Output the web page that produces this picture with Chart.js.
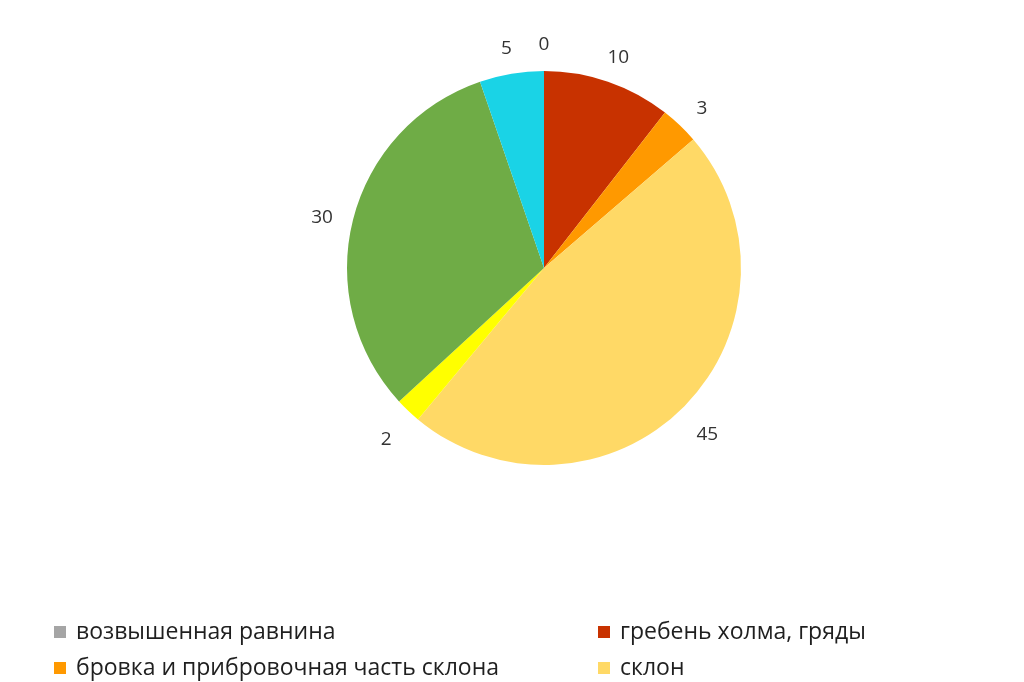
<!DOCTYPE html>
<html>
<head>
<meta charset="utf-8">
<script src="https://cdn.jsdelivr.net/npm/chart.js@4/dist/chart.umd.min.js"></script>
<style>
  html, body { margin: 0; padding: 0; background: #fff; }
  #wrap { width: 1024px; height: 682px; }
</style>
</head>
<body>
<div id="wrap"><canvas id="c" width="1024" height="682"></canvas></div>
<script>
// Формы рельефа (последние три в легенде не видны, подписи предположительные)
const categories = [
  'возвышенная равнина',
  'гребень холма, гряды',
  'бровка и прибровочная часть склона',
  'склон',
  'подножие склона',
  'терраса',
  'пойма'
];
const values = [0, 10, 3, 45, 2, 30, 5];
const colors = ['#a5a5a5', '#c83200', '#ff9900', '#ffd966', '#ffff00', '#6fac46', '#1ad3e6'];
const legendShown = 4;

const fontFamily = '"Open Sans", sans-serif';

// подписи значений снаружи круга
const outerLabels = {
  id: 'outerLabels',
  afterDatasetsDraw(chart) {
    const { ctx } = chart;
    const meta = chart.getDatasetMeta(0);
    ctx.save();
    ctx.font = '19px ' + fontFamily;
    ctx.fillStyle = '#333333';
    ctx.textAlign = 'center';
    ctx.textBaseline = 'middle';
    meta.data.forEach((arc, i) => {
      const mid = (arc.startAngle + arc.endAngle) / 2;
      const r = arc.outerRadius + 32;
      ctx.fillText(String(values[i]), arc.x + Math.cos(mid) * r, arc.y + 6 + Math.sin(mid) * r);
    });
    ctx.restore();
  }
};

// легенда в две колонки внизу
const gridLegend = {
  id: 'gridLegend',
  afterDraw(chart) {
    const { ctx } = chart;
    ctx.save();
    ctx.font = '23px ' + fontFamily;
    ctx.textBaseline = 'middle';
    for (let i = 0; i < legendShown; i++) {
      const col = i % 2, row = Math.floor(i / 2);
      const x = col === 0 ? 54 : 598;
      const y = 632 + row * 36;
      ctx.fillStyle = colors[i];
      ctx.fillRect(x, y - 6, 12, 12);
      ctx.fillStyle = '#1f1f1f';
      ctx.fillText(categories[i], x + 22, y);
    }
    ctx.restore();
  }
};

new Chart(document.getElementById('c'), {
  type: 'pie',
  data: {
    labels: categories,
    datasets: [{
      data: values,
      backgroundColor: colors,
      borderWidth: 0
    }]
  },
  options: {
    responsive: false,
    animation: false,
    layout: { padding: { top: 71, bottom: 217, left: 347, right: 283 } },
    plugins: {
      legend: { display: false },
      tooltip: { enabled: false }
    }
  },
  plugins: [outerLabels, gridLegend]
});
</script>
</body>
</html>
